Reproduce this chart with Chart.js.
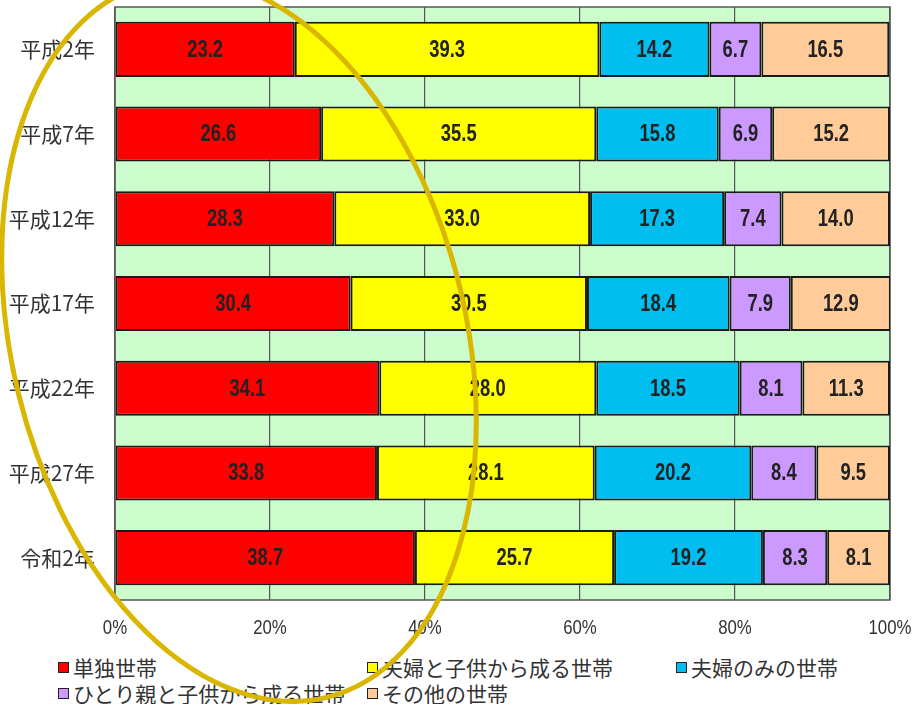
<!DOCTYPE html>
<html><head><meta charset="utf-8">
<script src="https://cdn.jsdelivr.net/npm/chart.js@4"></script>
<style>
html,body{margin:0;padding:0;background:#fff;}
#wrap{position:relative;width:913px;height:704px;overflow:hidden;}
#c{position:absolute;left:0;top:0;}
.lg{position:absolute;font-family:"Noto Sans CJK JP",sans-serif;font-size:21px;color:#333;line-height:26px;white-space:nowrap;}
.lg i{display:inline-block;width:9px;height:9px;border:1.5px solid #222;margin-right:4px;vertical-align:3px;}
#ov{position:absolute;left:0;top:0;pointer-events:none;}
</style></head><body>
<div id="wrap">
<canvas id="c" width="913" height="645"></canvas>
<div id="legend"></div>
<svg id="ov" width="913" height="704"><ellipse cx="239" cy="340" rx="368" ry="227" transform="rotate(76.2 239 340)" fill="none" stroke="#d9b600" stroke-width="5"/></svg>
</div>
<script>
const categories = ["平成2年","平成7年","平成12年","平成17年","平成22年","平成27年","令和2年"];
const seriesNames = ["単独世帯","夫婦と子供から成る世帯","夫婦のみの世帯","ひとり親と子供から成る世帯","その他の世帯"];
const single      = [23.2, 26.6, 28.3, 30.4, 34.1, 33.8, 38.7];
const coupleKids  = [39.3, 35.5, 33.0, 30.5, 28.0, 28.1, 25.7];
const coupleOnly  = [14.2, 15.8, 17.3, 18.4, 18.5, 20.2, 19.2];
const singleParent= [6.7, 6.9, 7.4, 7.9, 8.1, 8.4, 8.3];
const others      = [16.5, 15.2, 14.0, 12.9, 11.3, 9.5, 8.1];
const xTicks = [0, 20, 40, 60, 80, 100];
const colors = ["#ff0000","#ffff00","#00bff0","#cc99ff","#ffcc99"];
const seriesValues = [single, coupleKids, coupleOnly, singleParent, others];

// legend (HTML)
const legendPos = [[58,654],[367,654],[676,654],[58,680],[367,680]];
const lg = document.getElementById('legend');
seriesNames.forEach((n,i)=>{
  const d=document.createElement('div');d.className='lg';
  d.style.left=legendPos[i][0]+'px';d.style.top=legendPos[i][1]+'px';
  d.innerHTML='<i style="background:'+colors[i]+'"></i>'+n;
  lg.appendChild(d);
});

function narrowText(ctx, text, x, y, sx){
  ctx.save();
  ctx.translate(x, y);
  ctx.scale(sx, 1);
  ctx.fillText(text, 0, 0);
  ctx.restore();
}

const bgPlugin = {
  id:'bg',
  beforeDraw(chart){
    const {ctx, chartArea:a} = chart;
    ctx.save();
    ctx.fillStyle='#ccfccc';
    ctx.fillRect(a.left,a.top,a.right-a.left,a.bottom-a.top);
    ctx.strokeStyle='#555';ctx.lineWidth=1.5;
    ctx.strokeRect(a.left,a.top,a.right-a.left,a.bottom-a.top);
    ctx.restore();
  },
  afterDraw(chart){
    const ctx=chart.ctx, xs=chart.scales.x;
    ctx.save();
    ctx.font='20px "Liberation Sans",Arial,sans-serif';
    ctx.fillStyle='#333';ctx.textAlign='center';ctx.textBaseline='middle';
    xTicks.forEach(v=>narrowText(ctx, v+'%', xs.getPixelForValue(v), chart.chartArea.bottom+28, 0.84));
    ctx.restore();
  }
};
const labelPlugin = {
  id:'vals',
  afterDatasetsDraw(chart){
    const ctx=chart.ctx;
    ctx.save();
    ctx.font='bold 23px "Liberation Sans",Arial,sans-serif';
    ctx.fillStyle='#222';ctx.textAlign='center';ctx.textBaseline='middle';
    chart.data.datasets.forEach((ds,di)=>{
      chart.getDatasetMeta(di).data.forEach((el,i)=>{
        const x=(el.x+el.base)/2;
        narrowText(ctx, ds.data[i].toFixed(1), x, el.y+1, 0.8);
      });
    });
    ctx.restore();
  }
};

new Chart(document.getElementById('c'),{
  type:'bar',
  data:{labels:categories,datasets:seriesNames.map((n,i)=>({
    label:n,data:seriesValues[i],backgroundColor:colors[i],borderColor:'#1a1a1a',borderWidth:2,borderSkipped:false,
    barPercentage:0.65,categoryPercentage:1
  }))},
  options:{
    indexAxis:'y',responsive:false,animation:false,devicePixelRatio:1,
    layout:{padding:{top:7,right:23,left:0,bottom:0}},
    plugins:{legend:{display:false},tooltip:{enabled:false}},
    scales:{
      x:{stacked:true,min:0,max:100,
        afterBuildTicks(s){s.ticks=xTicks.map(v=>({value:v}));},
        afterFit(s){s.height=45;s.paddingLeft=0;s.paddingRight=0;},
        ticks:{display:false},
        grid:{color:'#555',lineWidth:1.2,drawTicks:false},
        border:{display:false}},
      y:{stacked:true,
        afterFit(s){s.width=115;s.paddingTop=0;s.paddingBottom=0;},
        ticks:{padding:12,color:'#333',font:{family:'"Noto Sans CJK JP",sans-serif',size:21}},
        grid:{display:false},border:{display:false}}
    }
  },
  plugins:[bgPlugin,labelPlugin]
});
</script>
</body></html>
